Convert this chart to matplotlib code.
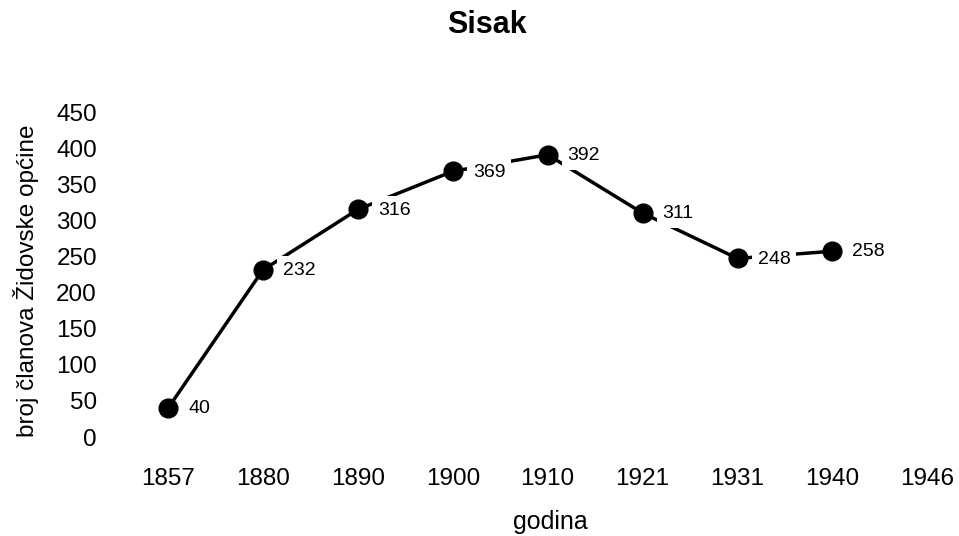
import numpy as np
import matplotlib
matplotlib.use('Agg')
import matplotlib.pyplot as plt

plt.rcParams['font.family'] = ['Liberation Sans', 'DejaVu Sans']

godine = ['1857', '1880', '1890', '1900', '1910', '1921', '1931', '1940', '1946']
clanovi = [40, 232, 316, 369, 392, 311, 248, 258, np.nan]
y_ticks = [0, 50, 100, 150, 200, 250, 300, 350, 400, 450]

W, H = 959, 536
fig = plt.figure(figsize=(W / 100, H / 100), dpi=100)
ax = fig.add_axes([0.1257, 0.1847, 0.871, 0.6045])

x = np.arange(len(godine))
ax.plot(x, clanovi, color='black', lw=2.5, marker='o', ms=13.5, clip_on=False, zorder=2)

# oznake vrijednosti desno od tocaka, bijela pozadina prekida liniju
for i, v in enumerate(clanovi):
    if np.isnan(v):
        continue
    ax.annotate(str(int(v)), (i, v), xytext=(14.4, -0.5), textcoords='offset points',
                ha='left', va='center', fontsize=14, zorder=3,
                bbox=dict(boxstyle='square,pad=0.3', fc='white', ec='none'))

ax.set_xlim(-0.5, 8.3)
ax.set_ylim(0, 450)
ax.set_xticks(x)
ax.set_xticklabels(godine)
ax.set_yticks(y_ticks)
ax.tick_params(axis='both', length=0, labelsize=17.5)
ax.tick_params(axis='x', pad=22)
ax.tick_params(axis='y', pad=17)
for s in ax.spines.values():
    s.set_visible(False)

fig.text(550 / W, 1 - 522 / H, 'godina', ha='center', va='center', fontsize=18)
fig.text(26 / W, 1 - 437 / H, 'broj članova Židovske općine', rotation=90,
         ha='center', va='bottom', fontsize=17.5)
fig.text(487 / W, 1 - 25 / H, 'Sisak', ha='center', va='center', fontsize=22, fontweight='bold')

fig.savefig('out.png', dpi=100)
